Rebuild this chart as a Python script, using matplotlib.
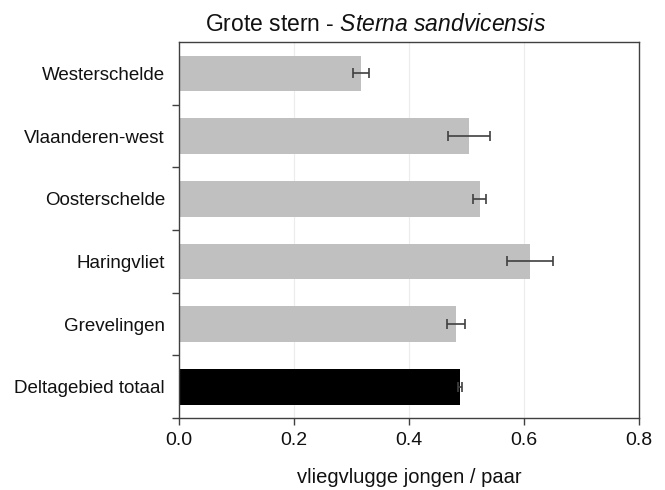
import matplotlib
matplotlib.use("Agg")
import matplotlib.pyplot as plt
import numpy as np

plt.rcParams['font.family'] = ['Liberation Sans', 'DejaVu Sans']
plt.rcParams['mathtext.fontset'] = 'custom'
plt.rcParams['mathtext.rm'] = 'Liberation Sans'
plt.rcParams['mathtext.it'] = 'Liberation Sans:italic'

# Breeding success per area (bottom to top)
areas = ["Deltagebied totaal", "Grevelingen", "Haringvliet",
         "Oosterschelde", "Vlaanderen-west", "Westerschelde"]
success = [0.489, 0.482, 0.610, 0.523, 0.504, 0.316]
errors = [0.003, 0.016, 0.040, 0.011, 0.036, 0.014]
bar_colors = ["#000000", "#c0c0c0", "#c0c0c0", "#c0c0c0", "#c0c0c0", "#c0c0c0"]
xticks = [0.0, 0.2, 0.4, 0.6, 0.8]

fig = plt.figure(figsize=(6.65, 4.9), dpi=100)
ax = fig.add_axes([0.269, 0.147, 0.692, 0.767])

y = np.arange(len(areas))
ax.barh(y, success, height=0.57, color=bar_colors, zorder=2)
ax.errorbar(success, y, xerr=errors, fmt="none", ecolor="#404040",
            elinewidth=1.2, capsize=3.5, capthick=1.2, zorder=3)

ax.set_xlim(0, 0.8)
ax.set_ylim(-0.5, len(areas) - 0.5)
ax.set_xticks(xticks)
ax.set_xticklabels([f"{v:.1f}" for v in xticks])
for v in xticks[1:-1]:
    ax.axvline(v, color="#ececec", lw=0.8, zorder=0)

ax.set_yticks(y)
ax.set_yticklabels(areas)
ax.set_yticks(np.arange(-0.5, len(areas) - 0.5, 1.0), minor=True)
ax.tick_params(axis="y", which="major", length=0, pad=10, labelsize=13.5,
               labelcolor="#111111")
ax.tick_params(axis="y", which="minor", length=5, width=1, color="#404040",
               direction="out")
ax.tick_params(axis="x", length=5, width=1, color="#404040", direction="out",
               labelsize=14, labelcolor="#111111", pad=5)

for s in ax.spines.values():
    s.set_color("#404040")
    s.set_linewidth(1.0)

ax.set_xlabel("vliegvlugge jongen / paar", fontsize=14.5, labelpad=14,
              color="#111111")
fig.text(0.565, 0.95, r"Grote stern - $\it{Sterna\ sandvicensis}$",
         fontsize=16.5, ha="center", va="center", color="#111111")

fig.savefig("out.png", dpi=100)
